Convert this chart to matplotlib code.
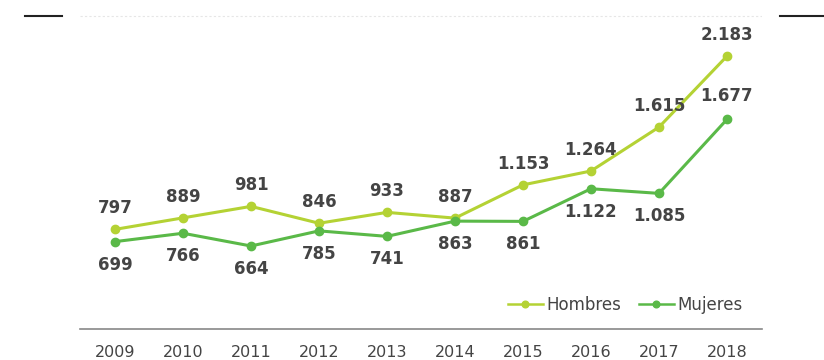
import matplotlib
matplotlib.use("Agg")
import matplotlib.pyplot as plt
from matplotlib.lines import Line2D

years = [2009, 2010, 2011, 2012, 2013, 2014, 2015, 2016, 2017, 2018]
hombres = [797, 889, 981, 846, 933, 887, 1153, 1264, 1615, 2183]
mujeres = [699, 766, 664, 785, 741, 863, 861, 1122, 1085, 1677]

# label placement: +1 above the point, -1 below
pos_h = [1, 1, 1, 1, 1, 1, 1, 1, 1, 1]
pos_m = [-1, -1, -1, -1, -1, -1, -1, -1, -1, 1]

c_h = "#b4d234"
c_m = "#5ab948"
txt = "#444444"

def fmt(v):
    return f"{v:,}".replace(",", ".")

fig = plt.figure(figsize=(8.24, 3.6), dpi=100)
ax = fig.add_axes([80 / 824, 1 - 329 / 360, (762 - 80) / 824, 329 / 360])

ax.plot(years, hombres, color=c_h, lw=2.2, marker="o", ms=6, label="Hombres", zorder=3)
ax.plot(years, mujeres, color=c_m, lw=2.2, marker="o", ms=6, label="Mujeres", zorder=3)

for x, v, p in zip(years, hombres, pos_h):
    ax.annotate(fmt(v), (x, v), xytext=(0, 21 * p), textcoords="offset pixels",
                ha="center", va="center", fontsize=12, fontweight="bold", color=txt)
for x, v, p in zip(years, mujeres, pos_m):
    ax.annotate(fmt(v), (x, v), xytext=(0, 23 * p), textcoords="offset pixels",
                ha="center", va="center", fontsize=12, fontweight="bold", color=txt)

ax.set_xlim(2009 - 0.515, 2018 + 0.515)
ax.set_ylim(0, 2632)
ax.set_xticks(years)
ax.set_xticklabels([str(y) for y in years], fontsize=11.5, color=txt)
ax.tick_params(axis="x", length=0, pad=11.5)
ax.set_yticks([])
for s in ["top", "left", "right"]:
    ax.spines[s].set_visible(False)
ax.spines["bottom"].set_color("#888888")
ax.spines["bottom"].set_linewidth(1.2)

# faint guide line and short dark marks along the top
ax.axhline(2504, color="#e6e6e6", lw=0.8, ls=(0, (2, 2)), zorder=0)
fig.add_artist(Line2D([25 / 824, 62 / 824], [1 - 16 / 360] * 2, color="#222222", lw=1.5))
fig.add_artist(Line2D([780 / 824, 1.0], [1 - 16 / 360] * 2, color="#222222", lw=1.5))

leg = ax.legend(loc="center", bbox_to_anchor=((625 - 80) / 682, (329 - 305) / 329),
                ncol=2, frameon=False, fontsize=12, handlelength=2.1,
                handletextpad=0.2, columnspacing=1.05, markerscale=0.8,
                borderpad=0, borderaxespad=0)
for t in leg.get_texts():
    t.set_color(txt)
for h in leg.legend_handles:
    h.set_linewidth(1.8)

fig.savefig("out.png", dpi=100)
